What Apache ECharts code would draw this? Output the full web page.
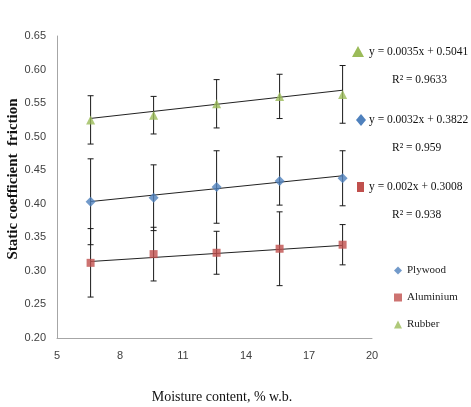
<!DOCTYPE html>
<html>
<head>
<meta charset="utf-8">
<script src="https://cdn.jsdelivr.net/npm/echarts@6/dist/echarts.min.js"></script>
<style>
  html, body { margin: 0; padding: 0; background: #fff; }
  #chart { width: 471px; height: 407px; }
</style>
</head>
<body>
<div id="chart"></div>
<script>
/* data */
var moisture = [6.6, 9.6, 12.6, 15.6, 18.6];

var plywood   = [0.403, 0.409, 0.425, 0.434, 0.438];
var plywoodErr = [0.064, 0.049, 0.054, 0.036, 0.041];

var aluminium   = [0.312, 0.325, 0.327, 0.333, 0.339];
var aluminiumErr = [0.051, 0.040, 0.032, 0.055, 0.030];

var rubber   = [0.525, 0.532, 0.549, 0.560, 0.563];
var rubberErr = [0.036, 0.028, 0.036, 0.033, 0.043];

// linear trendlines as printed on the chart
var slopes     = { Plywood: 0.0032, Aluminium: 0.002, Rubber: 0.0035 };
var intercepts = { Plywood: 0.3822, Aluminium: 0.3008, Rubber: 0.5041 };
var equations  = ['y = 0.0035x + 0.5041', 'y = 0.0032x + 0.3822', 'y = 0.002x + 0.3008'];
var rSquared   = ['R\u00b2 = 0.9633', 'R\u00b2 = 0.959', 'R\u00b2 = 0.938'];

var yTicks = [0.20, 0.25, 0.30, 0.35, 0.40, 0.45, 0.50, 0.55, 0.60, 0.65];
var xTicks = [5, 8, 11, 14, 17, 20];

var colors = { Plywood: '#4F81BD', Aluminium: '#C0504D', Rubber: '#9BBB59' };
var serif = '"Liberation Serif", "DejaVu Serif", serif';

function pairs(ys){
  return moisture.map(function(x, i){ return [x, ys[i]]; });
}
function errData(ys, es){
  return moisture.map(function(x, i){ return [x, ys[i] - es[i], ys[i] + es[i]]; });
}
function trend(name){
  var x0 = moisture[0], x1 = moisture[moisture.length - 1];
  return [[x0, slopes[name] * x0 + intercepts[name]], [x1, slopes[name] * x1 + intercepts[name]]];
}

function errorBars(params, api){
  var lo = api.coord([api.value(0), api.value(1)]);
  var hi = api.coord([api.value(0), api.value(2)]);
  var w = 3;
  var st = { stroke: '#1a1a1a', lineWidth: 1 };
  return {
    type: 'group',
    children: [
      { type: 'line', shape: { x1: lo[0], y1: lo[1], x2: hi[0], y2: hi[1] }, style: st },
      { type: 'line', shape: { x1: lo[0] - w, y1: lo[1], x2: lo[0] + w, y2: lo[1] }, style: st },
      { type: 'line', shape: { x1: hi[0] - w, y1: hi[1], x2: hi[0] + w, y2: hi[1] }, style: st }
    ]
  };
}

var series = [];
[['Plywood', plywood, plywoodErr, 'diamond', 10],
 ['Aluminium', aluminium, aluminiumErr, 'rect', 8],
 ['Rubber', rubber, rubberErr, 'triangle', 9]].forEach(function(s){
  series.push({
    type: 'custom',
    renderItem: errorBars,
    data: errData(s[1], s[2]),
    z: 3,
    silent: true
  });
  series.push({
    type: 'line',
    data: trend(s[0]),
    showSymbol: false,
    lineStyle: { color: '#222', width: 1 },
    z: 2,
    silent: true
  });
  series.push({
    name: s[0],
    type: 'scatter',
    data: pairs(s[1]),
    symbol: s[3],
    symbolSize: s[4],
    itemStyle: { color: colors[s[0]] },
    z: 4
  });
});

var annY = [52, 120, 187];
var annIcon = [
  { type: 'polygon', shape: { points: [[358, 46], [352, 57], [364, 57]] }, style: { fill: colors.Rubber } },
  { type: 'polygon', shape: { points: [[361, 114], [366, 120], [361, 126], [356, 120]] }, style: { fill: colors.Plywood } },
  { type: 'rect', shape: { x: 357, y: 182, width: 7, height: 10 }, style: { fill: colors.Aluminium } }
];
var graphics = annIcon.slice();
equations.forEach(function(eq, i){
  graphics.push({
    type: 'text', left: 369, top: annY[i] - 6,
    style: { text: eq, font: '11.5px ' + serif, fill: '#111' }
  });
  graphics.push({
    type: 'text', left: 392, top: annY[i] + 22,
    style: { text: rSquared[i], font: '11.5px ' + serif, fill: '#111' }
  });
});

// axis titles
graphics.push({
  type: 'text', x: 13, y: 179, rotation: Math.PI / 2,
  style: { text: 'Static coefficient  friction', font: 'bold 15px ' + serif, fill: '#111',
           textAlign: 'center', textVerticalAlign: 'middle' }
});
graphics.push({
  type: 'text', x: 222, y: 397,
  style: { text: 'Moisture content, % w.b.', font: '14px ' + serif, fill: '#111',
           textAlign: 'center', textVerticalAlign: 'middle' }
});

var option = {
  animation: false,
  backgroundColor: '#fff',
  grid: { left: 57, right: 99, top: 36, bottom: 69, outerBoundsMode: 'none', containLabel: false },
  legend: {
    data: ['Plywood', 'Aluminium', 'Rubber'],
    orient: 'vertical',
    left: 389,
    top: 260,
    itemWidth: 8,
    itemHeight: 8,
    itemGap: 16,
    textStyle: { fontFamily: serif, fontSize: 11, color: '#222' }
  },
  xAxis: {
    type: 'value',
    min: 5, max: 20, interval: 3,
    axisLine: { lineStyle: { color: '#a6a6a6' } },
    axisTick: { show: false },
    splitLine: { show: false },
    axisLabel: {
      fontFamily: '"Liberation Sans", Arial, sans-serif', fontSize: 11, color: '#404040', margin: 12,
      formatter: function(v){ return xTicks.indexOf(v) >= 0 ? String(v) : ''; }
    }
  },
  yAxis: {
    type: 'value',
    min: 0.20, max: 0.65, interval: 0.05,
    axisLine: { show: true, lineStyle: { color: '#a6a6a6' } },
    axisTick: { show: false },
    splitLine: { show: false },
    axisLabel: {
      fontFamily: '"Liberation Sans", Arial, sans-serif', fontSize: 11, color: '#404040', margin: 11,
      formatter: function(v){
        var t = yTicks.filter(function(k){ return Math.abs(k - v) < 1e-6; });
        return t.length ? t[0].toFixed(2) : '';
      }
    }
  },
  graphic: graphics,
  series: series
};

var chart = echarts.init(document.getElementById('chart'));
chart.setOption(option);
window.addEventListener('resize', function(){ chart.resize(); });
</script>
</body>
</html>
